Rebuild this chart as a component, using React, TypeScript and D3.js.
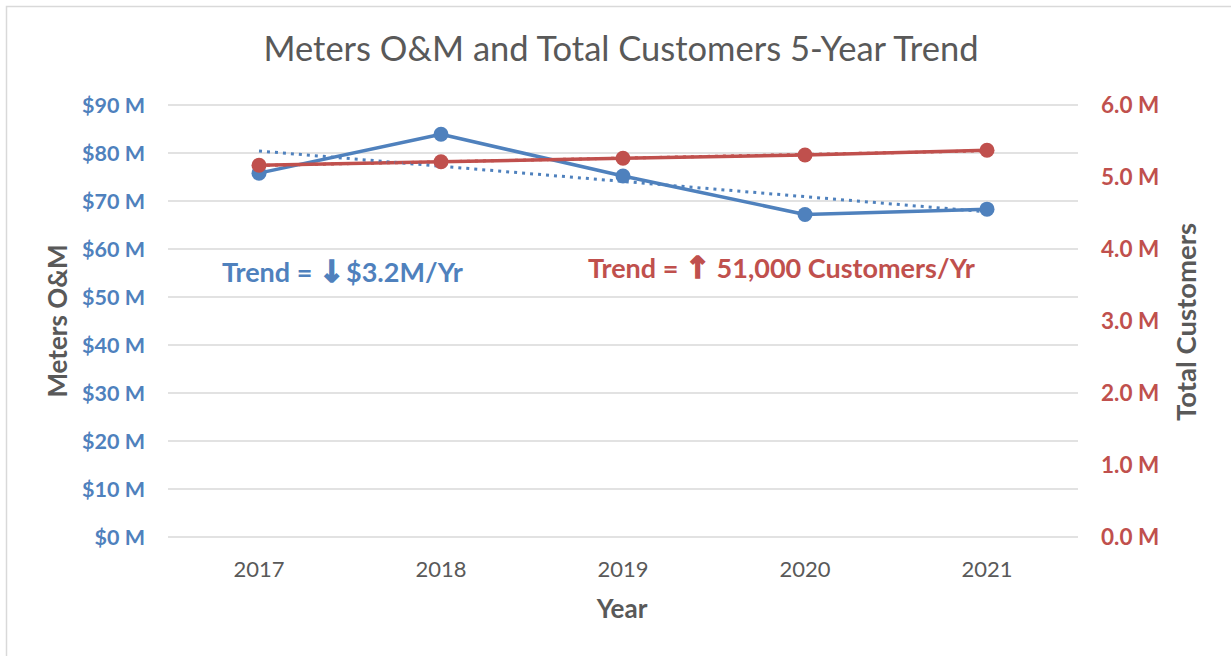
import React from "react";
import * as d3 from "d3";

const years = ["2017", "2018", "2019", "2020", "2021"];
const omValues = [75.8, 83.9, 75.2, 67.2, 68.3]; // $M
const customerValues = [5.163, 5.212, 5.26, 5.306, 5.371]; // M
const leftTicks = [0, 10, 20, 30, 40, 50, 60, 70, 80, 90];
const rightTicks = [0, 1, 2, 3, 4, 5, 6];
const title = "Meters O&M and Total Customers 5-Year Trend";

const BLUE = "#4F81BD";
const RED = "#C0504D";
const GRAY = "#595959";
const GRID = "#D9D9D9";
const FONT = "Lato, 'Open Sans', sans-serif";
const ARROW_FONT = "'DejaVu Sans', sans-serif";

function linReg(vals: number[]) {
  const xs = vals.map((_, i) => i);
  const mx = d3.mean(xs)!;
  const my = d3.mean(vals)!;
  let num = 0, den = 0;
  xs.forEach((x, i) => { num += (x - mx) * (vals[i] - my); den += (x - mx) ** 2; });
  const b = num / den;
  const a = my - b * mx;
  return xs.map((x) => a + b * x);
}

export default function App() {
  const W = 1231, H = 656;
  const left = 168, right = 1078, top = 105, bottom = 537;
  const x = d3.scalePoint<string>().domain(years).range([left, right]).padding(0.5);
  const yL = d3.scaleLinear().domain([0, 90]).range([bottom, top]);
  const yR = d3.scaleLinear().domain([0, 6]).range([bottom, top]);

  const omTrend = linReg(omValues);
  const custTrend = linReg(customerValues);

  const lineL = d3.line<number>().x((_, i) => x(years[i])!).y((d) => yL(d));
  const lineR = d3.line<number>().x((_, i) => x(years[i])!).y((d) => yR(d));

  return (
    <svg width={W} height={H} style={{ position: "absolute", left: 0, top: 0, background: "#fff" }} fontFamily={FONT}>
      <rect x={6.5} y={6.5} width={1240} height={670} fill="#fff" stroke={GRID} strokeWidth={1.5} />
      <text x={621} y={61} textAnchor="middle" fontSize={34.5} fill={GRAY}>{title}</text>

      {leftTicks.map((t) => (
        <line key={"g" + t} x1={left} x2={right} y1={yL(t)} y2={yL(t)} stroke={GRID} strokeWidth={1.5} />
      ))}
      {leftTicks.map((t) => (
        <text key={"l" + t} x={145} y={yL(t)} dy="0.35em" textAnchor="end" fontSize={21.5} fontWeight="bold" fill={BLUE}>
          {`$${t} M`}
        </text>
      ))}
      {rightTicks.map((t) => (
        <text key={"r" + t} x={1101} y={yR(t)} dy="0.35em" textAnchor="start" fontSize={22.5} fontWeight="bold" fill={RED}>
          {`${t.toFixed(1)} M`}
        </text>
      ))}
      {years.map((yr) => (
        <text key={yr} x={x(yr)!} y={569} dy="0.35em" textAnchor="middle" fontSize={22} fill={GRAY}>{yr}</text>
      ))}
      <text x={622} y={609} dy="0.35em" textAnchor="middle" fontSize={26} fontWeight="bold" fill={GRAY}>Year</text>
      <text transform="translate(58,321) rotate(-90)" textAnchor="middle" dy="0.35em" fontSize={26} fontWeight="bold" fill={GRAY}>Meters O&amp;M</text>
      <text transform="translate(1186,322) rotate(-90)" textAnchor="middle" dy="0.35em" fontSize={27.5} fontWeight="bold" fill={GRAY}>Total Customers</text>

      <path d={lineL(omValues)!} fill="none" stroke={BLUE} strokeWidth={3.5} strokeLinejoin="round" />
      <path d={lineR(customerValues)!} fill="none" stroke={RED} strokeWidth={3.5} strokeLinejoin="round" />
      <path d={lineL(omTrend)!} fill="none" stroke={BLUE} strokeWidth={3} strokeDasharray="3 5" />
      <path d={lineR(custTrend)!} fill="none" stroke={RED} strokeWidth={3} strokeDasharray="3 5" />
      {omValues.map((v, i) => (
        <circle key={"b" + i} cx={x(years[i])!} cy={yL(v)} r={7.5} fill={BLUE} />
      ))}
      {customerValues.map((v, i) => (
        <circle key={"c" + i} cx={x(years[i])!} cy={yR(v)} r={7.5} fill={RED} />
      ))}

      <text x={222} y={273} dy="0.35em" fontSize={27} fontWeight="bold" fill={BLUE}>
        Trend = <tspan fontFamily={ARROW_FONT} fontWeight="bold" fontSize={30} stroke={BLUE} strokeWidth={1.6}>↓</tspan><tspan dx={2}>$3.2M/Yr</tspan>
      </text>
      <text x={588} y={269} dy="0.35em" fontSize={27} fontWeight="bold" fill={RED}>
        Trend = <tspan fontFamily={ARROW_FONT} fontWeight="bold" fontSize={30} stroke={RED} strokeWidth={1.6}>↑</tspan> 51,000 Customers/Yr
      </text>
    </svg>
  );
}
